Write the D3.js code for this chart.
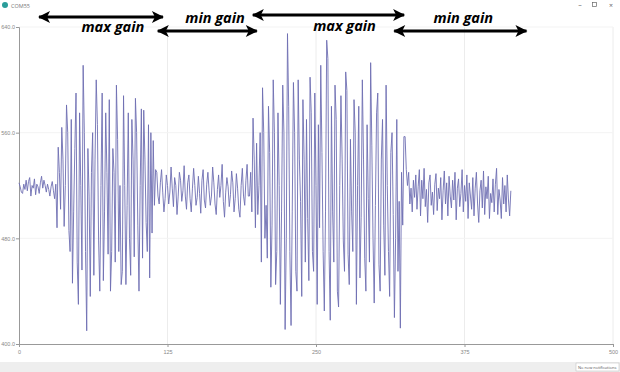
<!DOCTYPE html>
<html>
<head>
<meta charset="utf-8">
<script src="https://cdn.jsdelivr.net/npm/d3@7"></script>
<style>
  html, body { margin: 0; padding: 0; background: #fff; }
  svg { display: block; font-family: "Open Sans", "DejaVu Sans", sans-serif; }
</style>
</head>
<body>
<svg id="chart" width="620" height="372"></svg>
<script>
// serial samples, split by the gain phase they were recorded in
const quietStart = [522,519,515,514,521,517,524,516,523,526,512,520,518,525,513,521,519,514,522,527,518,524,520,515,521,517,512,519,523,516,510,521];
const loudA = [
  488,549,530,502,564,540,489,520,581,560,
  486,470,570,446,500,548,590,462,430,575,
  520,456,611,560,470,410,548,512,436,530,
  560,452,540,600,566,478,440,520,590,448,
  500,575,530,468,585,440,470,548,530,462,
  596,555,470,520,445,455,588,520,445,505,
  575,480,452,570,540,466,586,560,490,440,
  520,578,465,577,540,492,470,566,450,560,
  484,554,505,532
];
const quietMid = [
  530,512,506,522,532,515,500,510,528,520,
  506,515,534,518,504,526,520,498,512,530,
  524,508,516,535,512,502,522,528,510,500,
  518,533,520,505,511,527,514,499,524,532,
  509,503,521,530,516,505,512,534,522,506,
  498,517,528,511,520,536,508,496,515,526,
  519,504,513,531,522,500,510,529,518,502,
  496,520,533,512,505,524,536,512
];
const loudB = [
  512,530,500,571,540,488,552,498,520,560,
  462,594,560,480,505,465,580,545,443,490,
  600,560,445,470,575,520,430,500,596,560,
  411,480,635,580,470,414,500,598,560,455,
  440,600,540,508,436,585,540,462,570,495,
  448,602,575,470,455,590,520,430,566,488,
  611,545,470,425,500,630,616,470,418,580,
  500,462,596,570,440,428,520,588,540,478,
  455,606,592,468,445,555,500,470,585,560,
  430,520,580,450,496,600,540,465,440,566,
  510,462,613,550,480,431,505,575,590,460,
  440,540,570,490,452,596,520,470,436,545,
  560,498,420,480,570,455,508,412,530,490,557
];
const quietEnd = [
  557,532,520,530,506,518,500,524,511,528,
  502,519,532,497,524,510,533,504,517,492,
  522,528,505,515,498,521,529,501,518,510,
  526,494,516,531,506,522,497,527,512,503,
  524,509,530,494,518,525,504,514,532,500,
  520,508,528,495,522,512,502,526,497,518,
  530,506,492,516,524,503,531,498,519,510,
  527,495,514,507,525,500,521,533,498,517,
  509,495,526,506,520,500,528,509,497,516
];

const xTicks = [0, 125, 250, 375, 500];
const yTicks = [400, 480, 560, 640];

// hand drawn notes on top of the screenshot (sample index spans)
const notes = [
  { label: "max gain", from: 16, to: 122, at: 79, arrowY: 17, textY: 32 },
  { label: "min gain", from: 116, to: 201, at: 165, arrowY: 31, textY: 23 },
  { label: "max gain", from: 196, to: 325, at: 274, arrowY: 15, textY: 31 },
  { label: "min gain", from: 315, to: 428, at: 374, arrowY: 31, textY: 23 }
];

const samples = [].concat(quietStart, loudA, quietMid, loudB, quietEnd);

const svg = d3.select("#chart");
const W = 620;

const x = d3.scaleLinear().domain([0, 500]).range([19, 613]);
const y = d3.scaleLinear().domain([400, 640]).range([344, 27]);

// window chrome
svg.append("circle").attr("cx", 5).attr("cy", 5).attr("r", 3).attr("fill", "#2a9d9a");
svg.append("text").attr("x", 11).attr("y", 7.5).attr("font-size", 5.5).attr("fill", "#777").text("COM55");
svg.append("text").attr("x", 580).attr("y", 7).attr("font-size", 7).attr("fill", "#666").attr("text-anchor", "middle").text("–");
svg.append("rect").attr("x", 592.5).attr("y", 2.5).attr("width", 4).attr("height", 4).attr("fill", "none").attr("stroke", "#666").attr("stroke-width", 0.7);
svg.append("text").attr("x", 611).attr("y", 7.5).attr("font-size", 7).attr("fill", "#666").attr("text-anchor", "middle").text("×");

// grid
svg.append("g")
  .selectAll("line")
  .data(xTicks.slice(1))
  .join("line")
  .attr("x1", (d) => x(d)).attr("x2", (d) => x(d))
  .attr("y1", y(640)).attr("y2", y(400))
  .attr("stroke", "#ececec");
svg.append("g")
  .selectAll("line")
  .data(yTicks.slice(1))
  .join("line")
  .attr("x1", x(0)).attr("x2", x(500))
  .attr("y1", (d) => y(d)).attr("y2", (d) => y(d))
  .attr("stroke", "#f3f3f3");

// axes
const yAxis = svg.append("g")
  .attr("transform", `translate(${x(0)},0)`)
  .call(d3.axisLeft(y).tickValues(yTicks).tickSize(3).tickFormat(d3.format(".1f")));
const xAxis = svg.append("g")
  .attr("transform", `translate(0,${y(400)})`)
  .call(d3.axisBottom(x).tickValues(xTicks).tickSize(3));
[yAxis, xAxis].forEach((g) => {
  g.select(".domain").attr("stroke", "#999");
  g.selectAll(".tick line").attr("stroke", "#999");
  g.selectAll(".tick text").attr("fill", "#888").attr("font-size", 5.5);
});
yAxis.selectAll(".tick text").attr("x", -4);

// signal
const line = d3.line()
  .x((d, i) => x(i))
  .y((d) => y(d));
svg.append("path")
  .datum(samples)
  .attr("d", line)
  .attr("fill", "none")
  .attr("stroke", "#6e6eb2")
  .attr("stroke-width", 0.9);

// annotations
const defs = svg.append("defs");
["start", "end"].forEach((k) => {
  defs.append("marker")
    .attr("id", `head-${k}`)
    .attr("viewBox", "0 0 12 12")
    .attr("refX", k === "end" ? 11 : 1)
    .attr("refY", 6)
    .attr("markerWidth", 14)
    .attr("markerHeight", 12)
    .attr("markerUnits", "userSpaceOnUse")
    .attr("orient", "auto")
    .append("path")
    .attr("d", k === "end" ? "M0,0 L12,6 L0,12 L3,6 Z" : "M12,0 L0,6 L12,12 L9,6 Z")
    .attr("fill", "#000");
});

const ann = svg.append("g");
notes.forEach((n) => {
  ann.append("line")
    .attr("x1", x(n.from) + 1).attr("x2", x(n.to) - 1)
    .attr("y1", n.arrowY).attr("y2", n.arrowY)
    .attr("stroke", "#000")
    .attr("stroke-width", 3)
    .attr("marker-start", "url(#head-start)")
    .attr("marker-end", "url(#head-end)");
  ann.append("text")
    .attr("x", x(n.at))
    .attr("y", n.textY)
    .attr("text-anchor", "middle")
    .attr("font-family", "Open Sans, sans-serif")
    .attr("font-weight", "bold")
    .attr("font-style", "italic")
    .attr("font-size", 14.5)
    .attr("fill", "#000")
    .text(n.label);
});

// status strip
svg.append("rect").attr("x", 0).attr("y", 362).attr("width", W).attr("height", 10).attr("fill", "#eeeeee");
svg.append("rect").attr("x", 576).attr("y", 363).attr("width", 43).attr("height", 8).attr("fill", "#fff").attr("stroke", "#bbb").attr("stroke-width", 0.5);
svg.append("text").attr("x", 578).attr("y", 368.5).attr("font-size", 4).attr("fill", "#555").text("No new notifications");
</script>
</body>
</html>
